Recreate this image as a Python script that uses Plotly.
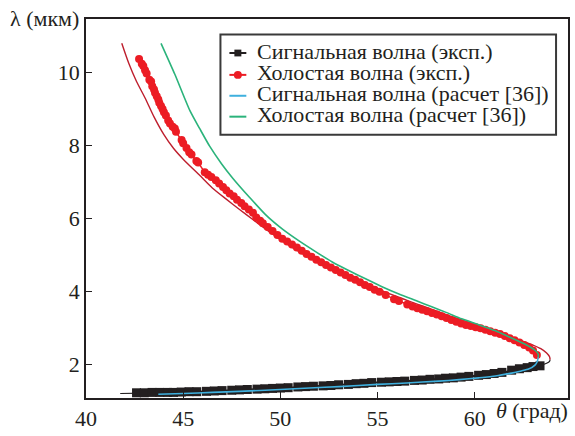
import plotly.graph_objects as go

# ---------------- data (θ in degrees, λ in μm) ----------------
idler_exp_theta = [42.73, 42.87, 42.95, 43.04, 43.12, 43.26, 43.35, 43.41, 43.50, 43.55,
                   43.64, 43.72, 43.77, 43.86, 43.94, 44.01, 44.11, 44.23, 44.32, 44.46,
                   44.57, 44.63, 44.92, 45.00, 45.17, 45.31, 45.43, 45.68, 45.77, 46.11,
                   46.28, 46.45, 46.68, 46.85, 47.05, 47.22, 47.39, 47.60, 47.77, 47.99,
                   48.16, 48.38, 48.59, 48.76, 48.96, 49.10, 49.35, 49.60, 49.85, 50.10,
                   50.35, 50.60, 50.85, 51.10, 51.35, 51.60, 51.85, 52.10, 52.35, 52.60,
                   52.85, 53.10, 53.35, 53.60, 53.85, 54.10, 54.35, 54.60, 54.85, 55.10,
                   55.42, 55.85, 56.10, 56.53, 56.80, 57.05, 57.30, 57.55, 57.80, 58.05,
                   58.30, 58.55, 58.80, 59.05, 59.30, 59.55, 59.80, 60.05, 60.30, 60.55,
                   60.80, 61.05, 61.30, 61.55, 61.80, 62.05, 62.30, 62.55, 62.80, 63.00,
                   63.20]
idler_exp_lambda = [10.37, 10.24, 10.18, 10.06, 9.97, 9.80, 9.75, 9.62, 9.53, 9.44,
                    9.35, 9.26, 9.17, 9.08, 9.00, 8.91, 8.82, 8.68, 8.60, 8.51,
                    8.46, 8.37, 8.15, 8.06, 7.93, 7.81, 7.75, 7.57, 7.53, 7.26,
                    7.19, 7.13, 7.04, 6.95, 6.86, 6.77, 6.68, 6.60, 6.51, 6.42,
                    6.33, 6.24, 6.15, 6.02, 5.93, 5.86, 5.76, 5.65, 5.54, 5.44,
                    5.36, 5.28, 5.20, 5.11, 5.02, 4.94, 4.86, 4.79, 4.72, 4.65,
                    4.58, 4.51, 4.44, 4.37, 4.31, 4.24, 4.17, 4.11, 4.04, 3.98,
                    3.89, 3.78, 3.73, 3.63, 3.58, 3.53, 3.49, 3.45, 3.40, 3.36,
                    3.31, 3.26, 3.21, 3.16, 3.11, 3.07, 3.04, 3.01, 2.98, 2.94,
                    2.90, 2.86, 2.82, 2.77, 2.71, 2.65, 2.59, 2.52, 2.45, 2.37,
                    2.25]

signal_exp_theta = [42.6, 43.0, 43.4, 43.8, 44.2, 44.5, 44.9, 45.3, 45.7, 46.2,
                    46.6, 47.0, 47.5, 47.9, 48.3, 48.8, 49.2, 49.6, 50.0, 50.4,
                    50.9, 51.3, 51.7, 52.2, 52.6, 53.0, 53.5, 53.9, 54.3, 54.7,
                    55.2, 55.6, 56.0, 56.4, 56.9, 57.3, 57.7, 58.15, 58.5, 58.9,
                    59.3, 59.7, 60.2, 60.6, 61.0, 61.4, 61.9, 62.3, 62.7, 63.0,
                    63.36]
signal_exp_lambda = [1.21, 1.21, 1.22, 1.22, 1.22, 1.22, 1.23, 1.24, 1.24, 1.25,
                     1.26, 1.27, 1.28, 1.29, 1.30, 1.31, 1.32, 1.33, 1.34, 1.35,
                     1.37, 1.38, 1.39, 1.40, 1.41, 1.43, 1.44, 1.46, 1.47, 1.49,
                     1.50, 1.51, 1.52, 1.53, 1.55, 1.56, 1.58, 1.59, 1.61, 1.62,
                     1.64, 1.66, 1.69, 1.71, 1.74, 1.77, 1.83, 1.87, 1.90, 1.93,
                     1.95]

signal_calc_theta = [43.72, 45.0, 46.5, 47.9, 50.0, 51.5, 53.03, 55.0, 56.5, 58.15,
                     59.2, 60.2, 61.06, 61.9, 62.4, 62.77, 63.1, 63.22, 63.27]
signal_calc_lambda = [1.17, 1.19, 1.22, 1.25, 1.30, 1.34, 1.38, 1.44, 1.48, 1.53,
                      1.57, 1.62, 1.67, 1.75, 1.81, 1.86, 1.97, 2.07, 2.19]

idler_calc_theta = [43.86, 44.57, 45.34, 45.86, 46.37, 46.98, 47.55, 48.42, 49.29, 50.11,
                    50.98, 51.85, 52.67, 53.54, 54.41, 55.23, 56.10, 56.97, 57.79, 58.56,
                    59.33, 60.20, 61.07, 61.74, 62.40, 62.81, 63.12, 63.27, 63.27]
idler_calc_lambda = [10.80, 9.95, 8.96, 8.45, 7.97, 7.49, 7.10, 6.57, 6.07, 5.70,
                     5.37, 5.07, 4.80, 4.56, 4.33, 4.12, 3.92, 3.74, 3.57, 3.41,
                     3.24, 3.08, 2.91, 2.75, 2.59, 2.48, 2.37, 2.27, 2.19]

# second calculation (unlabelled curves)
signal_calc2_theta = [41.76, 43.0, 44.5, 46.0, 47.5, 49.0, 50.5, 52.0, 53.5, 55.0,
                      56.5, 58.0, 59.5, 60.5, 61.5, 62.3, 62.9, 63.44, 63.7, 63.85, 63.88]
signal_calc2_lambda = [1.19, 1.20, 1.22, 1.24, 1.27, 1.31, 1.35, 1.39, 1.43, 1.48,
                       1.52, 1.57, 1.63, 1.68, 1.75, 1.82, 1.89, 1.97, 2.02, 2.07, 2.12]

idler_calc2_theta = [41.84, 42.2, 42.6, 43.04, 43.5, 44.0, 44.5, 45.0, 45.86, 46.5,
                     47.2, 47.9, 48.6, 49.3, 50.0, 50.7, 51.4, 52.1, 52.8, 53.5,
                     54.2, 54.9, 55.6, 56.3, 57.0, 57.7, 58.4, 59.1, 59.8, 60.5,
                     61.2, 61.9, 62.5, 63.0, 63.4, 63.7, 63.85, 63.88]
idler_calc2_lambda = [10.80, 10.25, 9.75, 9.30, 8.78, 8.30, 7.92, 7.62, 7.17, 6.83,
                      6.53, 6.24, 5.96, 5.68, 5.42, 5.17, 4.95, 4.75, 4.57, 4.40,
                      4.23, 4.08, 3.93, 3.79, 3.65, 3.52, 3.38, 3.25, 3.13, 3.01,
                      2.87, 2.73, 2.62, 2.52, 2.42, 2.30, 2.20, 2.12]

x_ticks = [40, 45, 50, 55, 60]
y_ticks = [2, 4, 6, 8, 10]
legend_labels = ["Сигнальная волна (эксп.)", "Холостая волна (эксп.)",
                 "Сигнальная волна (расчет [36])", "Холостая волна (расчет [36])"]

# ---------------- styles ----------------
BLACK = "#231f20"
RED = "#ec1c24"
DARKRED = "#be1e2d"
BLUE = "#3fb0de"
GREEN = "#2bb37b"
FONT = "Liberation Serif"

W, H = 575, 436
ML, MR, MT, MB = 86, 5, 19, 27
PW, PH = W - ML - MR, H - MT - MB


def px(xp):
    return (xp - ML) / PW


def py(yp):
    return (H - MB - yp) / PH


fig = go.Figure()

fig.add_trace(go.Scatter(x=signal_calc2_theta, y=signal_calc2_lambda, mode="lines",
                         line=dict(color=BLACK, width=1.2, shape="spline", smoothing=0.6),
                         showlegend=False))
fig.add_trace(go.Scatter(x=idler_calc2_theta, y=idler_calc2_lambda, mode="lines",
                         line=dict(color=DARKRED, width=1.4, shape="spline", smoothing=0.6),
                         showlegend=False))
fig.add_trace(go.Scatter(x=signal_exp_theta, y=signal_exp_lambda, mode="lines+markers",
                         line=dict(color=BLACK, width=1.5),
                         marker=dict(symbol="square", size=9, color=BLACK),
                         showlegend=False))
fig.add_trace(go.Scatter(x=idler_exp_theta, y=idler_exp_lambda, mode="lines+markers",
                         line=dict(color=RED, width=1.5),
                         marker=dict(symbol="circle", size=8, color=RED),
                         showlegend=False))
fig.add_trace(go.Scatter(x=signal_calc_theta, y=signal_calc_lambda, mode="lines",
                         line=dict(color=BLUE, width=1.6, shape="spline", smoothing=0.6),
                         showlegend=False))
fig.add_trace(go.Scatter(x=idler_calc_theta, y=idler_calc_lambda, mode="lines",
                         line=dict(color=GREEN, width=1.6, shape="spline", smoothing=0.6),
                         showlegend=False))

shapes = []
annotations = []

# custom legend (compact rows as in the original)
shapes.append(dict(type="rect", xref="paper", yref="paper",
                   x0=px(221), x1=px(558), y0=py(138), y1=py(35),
                   line=dict(color="#3a3a3a", width=2), fillcolor="white", layer="above"))
rows = [54, 76.5, 98, 119.5]
sym_colors = [BLACK, RED, BLUE, GREEN]
for i, (yy, c, lab) in enumerate(zip(rows, sym_colors, legend_labels)):
    shapes.append(dict(type="line", xref="paper", yref="paper",
                       x0=px(230), x1=px(247), y0=py(yy), y1=py(yy),
                       line=dict(color=c, width=2), layer="above"))
    if i == 0:
        shapes.append(dict(type="rect", xref="paper", yref="paper",
                           x0=px(235), x1=px(242), y0=py(yy + 3.5), y1=py(yy - 3.5),
                           line=dict(width=0), fillcolor=c, layer="above"))
    elif i == 1:
        shapes.append(dict(type="circle", xref="paper", yref="paper",
                           x0=px(234.5), x1=px(242.5), y0=py(yy + 4), y1=py(yy - 4),
                           line=dict(width=0), fillcolor=c, layer="above"))
    annotations.append(dict(xref="paper", yref="paper", x=px(256), y=py(yy),
                            xanchor="left", yanchor="middle", showarrow=False,
                            height=21, valign="bottom",
                            text=lab, font=dict(family=FONT, size=22, color=BLACK)))

annotations.append(dict(xref="paper", yref="paper", x=px(81), y=py(18),
                        xanchor="right", yanchor="middle", showarrow=False,
                        text="λ (мкм)", font=dict(family=FONT, size=22, color=BLACK)))
annotations.append(dict(xref="paper", yref="paper", x=px(572), y=py(422),
                        xanchor="right", yanchor="middle", showarrow=False,
                        text="<i>θ</i> (град)", font=dict(family=FONT, size=22, color=BLACK)))

axis_common = dict(showgrid=False, zeroline=False, showline=True, linecolor=BLACK,
                   linewidth=1.5, mirror=True, ticks="inside", ticklen=6, tickwidth=1.3,
                   tickcolor=BLACK, tickfont=dict(family=FONT, size=22, color=BLACK))

fig.update_layout(
    width=W, height=H,
    margin=dict(l=ML, r=MR, t=MT, b=MB, pad=0),
    paper_bgcolor="white", plot_bgcolor="white",
    showlegend=False,
    xaxis=dict(range=[40, 64.8], tickmode="array", tickvals=x_ticks,
               ticktext=[str(v) for v in x_ticks], **axis_common),
    yaxis=dict(range=[1.067, 11.467], tickmode="array", tickvals=y_ticks,
               ticktext=[str(v) for v in y_ticks], **axis_common),
    shapes=shapes, annotations=annotations,
)

fig.write_html("out.html", config={"displayModeBar": False},
               post_script="document.body.style.margin='0';document.body.style.overflow='hidden';")
